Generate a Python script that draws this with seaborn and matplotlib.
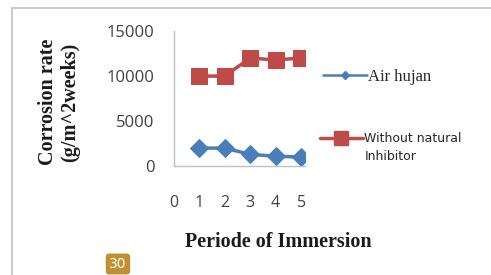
import matplotlib
matplotlib.use("Agg")
import matplotlib.pyplot as plt
from matplotlib.lines import Line2D
import seaborn as sns
import pandas as pd

periods = [1, 2, 3, 4, 5]
air_hujan = [2000, 2000, 1300, 1100, 1000]
without_inhibitor = [10000, 10000, 12000, 11800, 12000]
x_ticks = [0, 1, 2, 3, 4, 5]
y_ticks = [0, 5000, 10000, 15000]

df = pd.DataFrame({
    "Periode": periods * 2,
    "Rate": air_hujan + without_inhibitor,
    "Series": ["Air hujan"] * 5 + ["Without natural Inhibitor"] * 5,
})

sns.set_style("white")
plt.rcParams["font.family"] = ["DejaVu Sans"]

fig = plt.figure(figsize=(4.91, 2.75), dpi=100)
ax = fig.add_axes([0.354, 0.396, 0.267, 0.491])

blue = "#4A7EBB"
red = "#BE4B48"
sub = df[df.Series == "Air hujan"]
sns.lineplot(data=sub, x="Periode", y="Rate", ax=ax, color=blue, marker="D",
             markersize=9, linewidth=2.5, markeredgecolor=blue, legend=False)
sub2 = df[df.Series != "Air hujan"]
sns.lineplot(data=sub2, x="Periode", y="Rate", ax=ax, color=red, marker="s",
             markersize=11, linewidth=2.5, markeredgecolor=red, legend=False)

ax.set_xlim(0, 5.15)
ax.set_ylim(0, 15000)
ax.set_xticks(x_ticks)
ax.set_yticks(y_ticks)
ax.set_xticklabels([str(t) for t in x_ticks], fontsize=11.5, color="#404040",
                   family="Open Sans")
ax.set_yticklabels([str(t) for t in y_ticks], fontsize=12, color="#404040",
                   family="Open Sans")
ax.tick_params(axis="x", length=0, pad=21)
ax.tick_params(axis="y", length=0, pad=14)
for s in ["top", "right"]:
    ax.spines[s].set_visible(False)
for s in ["left", "bottom"]:
    ax.spines[s].set_color("#BFBFBF")
    ax.spines[s].set_linewidth(1.0)
ax.set_xlabel("")
ax.set_ylabel("")

fig.text(278/491, 1 - 242/275, "Periode of Immersion", fontsize=14.5, fontweight="bold",
         family="Liberation Serif", ha="center", va="center", color="#1a1a1a")
fig.text(59/491, 1 - 102/275, "Corrosion rate\n(g/m^2weeks)", fontsize=14.5,
         fontweight="bold", family="Liberation Serif", rotation=90,
         ha="center", va="center", linespacing=1.15, color="#1a1a1a")

# legend
h1 = Line2D([], [], color=blue, marker="D", markersize=4, linewidth=1.8)
h2 = Line2D([], [], color=red, marker="s", markersize=10, linewidth=2.5)
fig.legend([h1], ["Air hujan"], loc="center left", bbox_to_anchor=(0.628, 1 - 77/275),
           frameon=False, handlelength=2.6, handletextpad=0.1,
           prop={"family": "Liberation Serif", "size": 12})
fig.legend([h2], ["Without natural"], loc="center left",
           bbox_to_anchor=(0.629, 1 - 139/275), frameon=False, handlelength=3.4,
           handletextpad=0.15, prop={"family": "DejaVu Sans", "size": 9})
fig.text(365/491, 1 - 157/275, "Inhibitor", fontsize=9, family="DejaVu Sans",
         ha="left", va="center", color="#262626")

# frame lines of the chart area
fig.add_artist(Line2D([12/491, 12/491], [0, 1 - 8/275], color="#BFBFBF", lw=1.2,
                      transform=fig.transFigure))
fig.add_artist(Line2D([12/491, 1], [1 - 8/275, 1 - 8/275], color="#BFBFBF", lw=1.2,
                      transform=fig.transFigure))

fig.text(118/491, 4/275, "30", fontsize=10, color="white", ha="center",
         va="bottom", bbox=dict(boxstyle="round,pad=0.25", fc="#C09030", ec="none"))

fig.savefig("out.png", dpi=100)
